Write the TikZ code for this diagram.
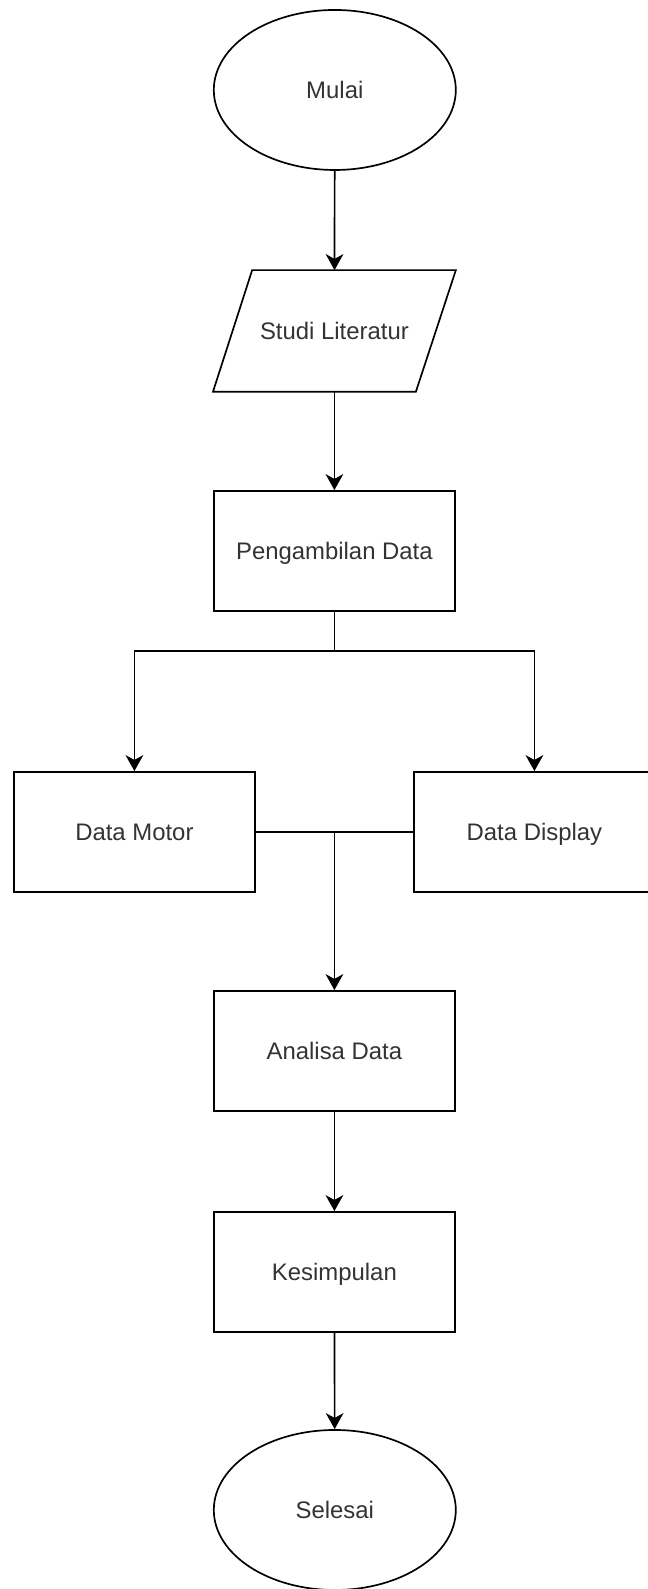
\documentclass[tikz,border=0pt]{standalone}
\usepackage{fontspec}
\setmainfont{Liberation Sans}
\usepackage{xcolor}
\usepackage{tikz}
\usetikzlibrary{arrows.meta,positioning,shapes.geometric}

\begin{document}
\begin{tikzpicture}[x=1cm,y=1cm,
  font=\fontsize{17}{20}\selectfont,
  box/.style={draw=black,line width=1.2pt,text=black!80,align=center,
    text height=14pt,text depth=2.2pt},
  terminal/.style={box,ellipse,minimum width=6.05cm,minimum height=4.0cm,inner sep=0pt},
  process/.style={box,rectangle,minimum width=6.03cm,minimum height=3.0cm,inner sep=0pt},
  link/.style={draw=black,line width=1.2pt},
  flow/.style={link,-{Stealth[length=4mm,width=4.4mm,inset=1.2mm]}}
]
 \path[use as bounding box] (0,0) rectangle (16.2,39.725);

 % main column
 \node[terminal] (mulai)  at (8.37,37.475) {Mulai};
 \node[process,draw=none] (studi) at (8.36,31.45) {Studi Literatur};
 % slanted input box round the text node
 \draw[link] ([xshift=0.98cm]studi.north west) -- (studi.north east)
   -- ([xshift=-1.0cm]studi.south east) -- (studi.south west) -- cycle;
 \node[process]  (ambil)  at (8.36,25.95)  {Pengambilan Data};

 % the two data branches
 \node[process]  (motor)   at (3.36,18.925)  {Data Motor};
 \node[process]  (display) at (13.36,18.925) {Data Display};

 \node[process]  (analisa) at (8.36,13.45) {Analisa Data};
 \node[process]  (simpul)  at (8.36,7.925) {Kesimpulan};
 \node[terminal] (selesai) at (8.37,1.975) {Selesai};

 \coordinate (split) at (8.36,23.45);
 \coordinate (join)  at (8.36,18.925);

 \draw[flow] (mulai) -- (studi);
 \draw[flow] (studi) -- (ambil);
 \draw[link] (ambil) -- (split);
 \draw[flow] (split) -| (motor);
 \draw[flow] (split) -| (display);
 \draw[link] (motor) -- (display);
 \draw[flow] (join) -- (analisa);
 \draw[flow] (analisa) -- (simpul);
 \draw[flow] (simpul) -- (selesai);
\end{tikzpicture}
\end{document}
